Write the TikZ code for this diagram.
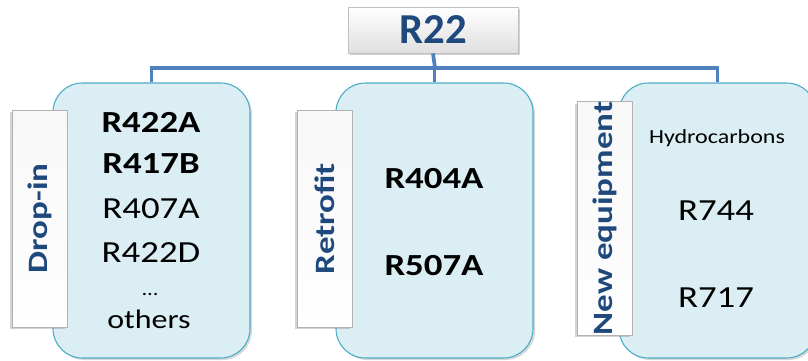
\documentclass[tikz,border=0pt]{standalone}
\usepackage{fontspec}
\setmainfont{Carlito}
\newfontfamily\wide{Carlito}[FakeStretch=1.2]
\newfontfamily\wider{Carlito}[FakeStretch=1.25]
\usetikzlibrary{shadows,calc}
\definecolor{conncol}{HTML}{4F81BD}
\definecolor{boxfill}{HTML}{DAEEF3}
\definecolor{boxline}{HTML}{4BACC6}
\definecolor{navy}{HTML}{1F497D}
\pgfdeclareverticalshading{bevel}{100bp}{color(0bp)=(gray!65); color(9bp)=(gray!30); color(16bp)=(white); color(80bp)=(gray!6); color(88bp)=(gray!22); color(100bp)=(gray!50)}
\tikzset{
  conn/.style={draw=conncol, line width=2.8pt},
  group/.style={draw=boxline, line width=0.8pt, fill=boxfill, rounded corners=22pt,
    minimum width=147.75pt, minimum height=206.25pt, inner sep=0pt,
    drop shadow={opacity=0.3, shadow xshift=1.5pt, shadow yshift=-1.5pt}},
  tabbox/.style={rotate=90, draw=gray!60, line width=0.5pt,
    shading=bevel,
    minimum width=162.75pt, minimum height=41.25pt, inner sep=0pt,
    font=\wider\bfseries\fontsize{21}{24}\selectfont, text=navy,
    drop shadow={opacity=0.35, shadow xshift=-1.5pt, shadow yshift=-1.5pt}},
  topbox/.style={draw=gray!50, line width=0.5pt, top color=white, bottom color=gray!25,
    minimum width=127.5pt, minimum height=34.5pt, inner sep=0pt,
    font=\bfseries\fontsize{32}{36}\selectfont, text=navy,
    drop shadow={opacity=0.35, shadow xshift=1.5pt, shadow yshift=-1.5pt}},
  item/.style={anchor=base, inner sep=0pt, font=\wide\fontsize{23}{28}\selectfont},
  bitem/.style={item, font=\wide\bfseries\fontsize{23}{28}\selectfont},
}
\begin{document}
\begin{tikzpicture}[x=0.75pt, y=-0.75pt]
\useasboundingbox (0,0) rectangle (808,361);
% top
\node[topbox] (r22) at (433,30) {R22};
% boxes
\node[group] (dropbox) at (151.5,220.5) {};
\node[group] (retrobox) at (434.5,220.5) {};
\node[group] (newbox) at (717.5,220.5) {};
% connectors
\coordinate (bus) at (435,68);
\draw[conn] (r22.south) -- (bus);
\draw[conn] (dropbox.north) -- (dropbox.north |- bus) -- (newbox.north |- bus) -- (newbox.north);
\draw[conn] (retrobox.north) -- (retrobox.north |- bus);
% tabs
\node[tabbox] (droptab) at (39.5,218.5) {Drop-in};
\node[tabbox] (retrotab) at (324.5,218.5) {Retrofit};
\node[tabbox] (newtab) at (604.5,218.5) {New equipment};
% drop-in items
\node[bitem] (d1) at (151,132) {R422A};
\node[bitem] (d2) at (151,173) {R417B};
\node[item] (d3) at (151,218) {R407A};
\node[item] (d4) at (151,262) {R422D};
\node[item, font=\wide\fontsize{14}{16}\selectfont] (d5) at (150,295) {…};
\node[item, font=\wide\fontsize{20}{24}\selectfont] (d6) at (149,328) {others};
% retrofit items
\node[bitem] (r1) at (434,188) {R404A};
\node[bitem] (r2) at (434,275) {R507A};
% new equipment items
\node[item, font=\wide\fontsize{15}{18}\selectfont] (n1) at (717,143) {Hydrocarbons};
\node[item] (n2) at (716,220) {R744};
\node[item] (n3) at (716,307) {R717};
\end{tikzpicture}
\end{document}
